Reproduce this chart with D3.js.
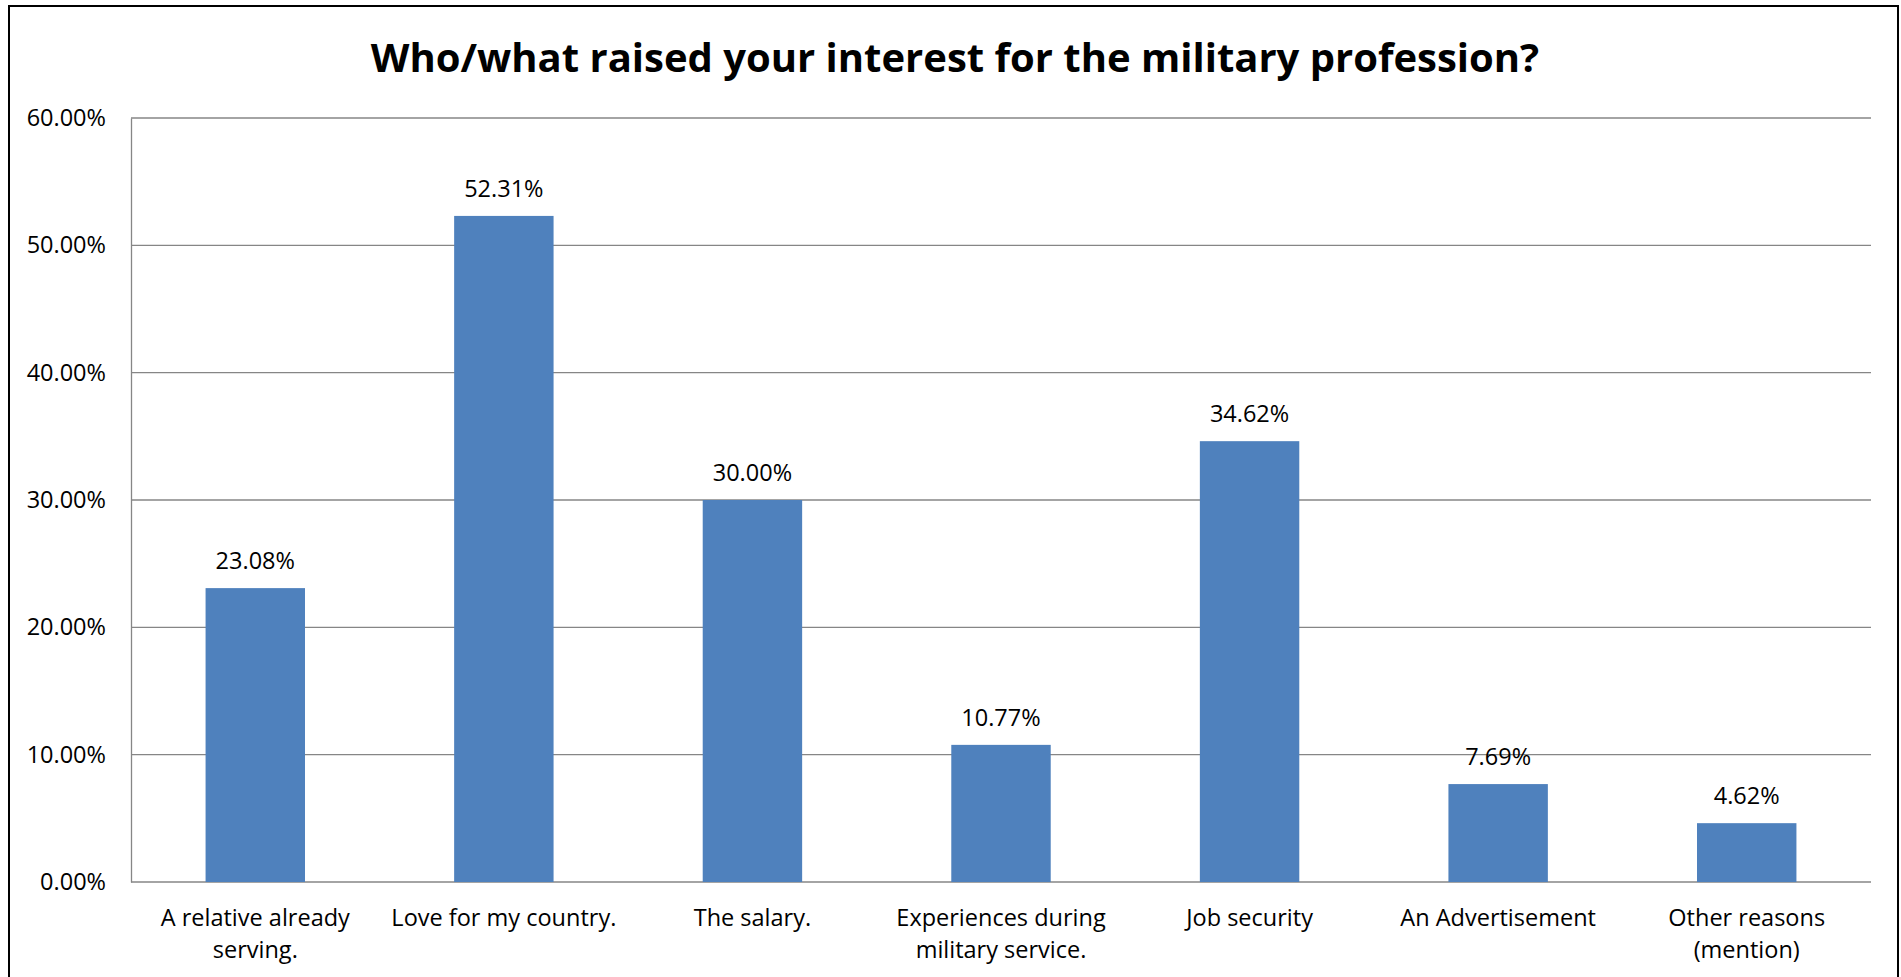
<!DOCTYPE html>
<html>
<head>
<meta charset="utf-8">
<script src="https://cdn.jsdelivr.net/npm/d3@7"></script>
<style>
  html, body { margin: 0; padding: 0; background: #fff; }
  svg { display: block; }
  text { font-family: "Open Sans", "Noto Sans", sans-serif; fill: #000; }
</style>
</head>
<body>
<svg id="chart" width="1901" height="977"></svg>
<script>
const chartTitle = "Who/what raised your interest for the military profession?";
const categories = [
  ["A relative already", "serving."],
  ["Love for my country."],
  ["The salary."],
  ["Experiences during", "military service."],
  ["Job security"],
  ["An Advertisement"],
  ["Other reasons", "(mention)"]
];
const values = [23.08, 52.31, 30.00, 10.77, 34.62, 7.69, 4.62];
const yTicks = [0, 10, 20, 30, 40, 50, 60];

const labelSize = 23.5;
const margin = { left: 131, top: 118 };
const plotW = 1871 - margin.left;
const plotH = 882 - margin.top;

const svg = d3.select("#chart");

// outer frame
svg.append("rect")
  .attr("x", 9).attr("y", 6)
  .attr("width", 1889).attr("height", 990)
  .attr("fill", "#fff").attr("stroke", "#000").attr("stroke-width", 2);

// title
svg.append("text")
  .attr("x", 955).attr("y", 72)
  .attr("text-anchor", "middle")
  .attr("font-weight", "bold")
  .attr("font-size", 40)
  .text(chartTitle);

const g = svg.append("g").attr("transform", `translate(${margin.left},${margin.top})`);

const x = d3.scaleBand()
  .domain(d3.range(categories.length))
  .range([0, plotW])
  .paddingInner(0.6)
  .paddingOuter(0.3);

const y = d3.scaleLinear().domain([0, 60]).range([plotH, 0]);

// horizontal gridlines
g.append("g")
  .selectAll("line")
  .data(yTicks)
  .join("line")
  .attr("x1", 0).attr("x2", plotW)
  .attr("y1", d => y(d)).attr("y2", d => y(d))
  .attr("stroke", "#868686").attr("stroke-width", 1.3);

// y axis
const yAxis = g.append("g")
  .call(d3.axisLeft(y).tickValues(yTicks).tickSize(0).tickPadding(25)
    .tickFormat(d => d.toFixed(2) + "%"));
yAxis.select(".domain").attr("stroke", "#868686").attr("stroke-width", 1.3);
yAxis.selectAll("text").attr("font-size", labelSize).attr("fill", "#000")
  .attr("font-family", "'Open Sans', sans-serif");

// bars
g.append("g")
  .selectAll("rect")
  .data(values)
  .join("rect")
  .attr("x", (d, i) => x(i))
  .attr("width", x.bandwidth())
  .attr("y", d => y(d))
  .attr("height", d => plotH - y(d))
  .attr("fill", "#4F81BD");

// value labels
g.append("g")
  .selectAll("text")
  .data(values)
  .join("text")
  .attr("x", (d, i) => x(i) + x.bandwidth() / 2)
  .attr("y", d => y(d) - 19)
  .attr("text-anchor", "middle")
  .attr("font-size", labelSize)
  .text(d => d.toFixed(2) + "%");

// category labels, wrapped onto two lines where needed
const cat = g.append("g")
  .selectAll("text")
  .data(categories)
  .join("text")
  .attr("text-anchor", "middle")
  .attr("font-size", labelSize)
  .attr("transform", (d, i) => `translate(${x(i) + x.bandwidth() / 2},${plotH + 44})`);
cat.selectAll("tspan")
  .data(d => d)
  .join("tspan")
  .attr("x", 0)
  .attr("y", (d, j) => j * 32)
  .text(d => d);
</script>
</body>
</html>
